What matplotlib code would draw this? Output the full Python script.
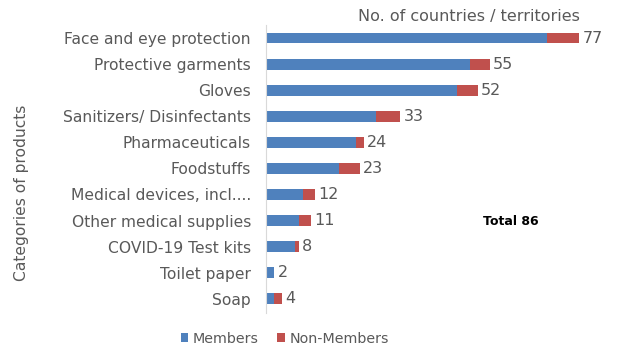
"""
Stacked horizontal bars: products by members / non-members.
"""
import matplotlib
matplotlib.use('Agg')
import matplotlib.pyplot as plt
import numpy as np

categories = ['Face and eye protection', 'Protective garments', 'Gloves',
              'Sanitizers/ Disinfectants', 'Pharmaceuticals', 'Foodstuffs',
              'Medical devices, incl....', 'Other medical supplies',
              'COVID-19 Test kits', 'Toilet paper', 'Soap']
members = [69, 50, 47, 27, 22, 18, 9, 8, 7, 2, 2]
non_members = [8, 5, 5, 6, 2, 5, 3, 3, 1, 0, 2]
totals = [77, 55, 52, 33, 24, 23, 12, 11, 8, 2, 4]

blue = '#4F81BD'
red = '#C0504D'
grey = '#595959'

fig = plt.figure(figsize=(6.19, 3.49), dpi=100)
ax = fig.add_axes([0.430, 0.103, 0.565, 0.825])

y = np.arange(len(categories))[::-1]
ax.barh(y, members, height=0.41, color=blue, label='Members')
ax.barh(y, non_members, left=members, height=0.41, color=red,
        label='Non-Members')

for yi, t in zip(y, totals):
    ax.text(t + 0.8, yi, str(t), va='center', ha='left', fontsize=11.5,
            color=grey)

ax.set_xlim(0, 86)
ax.set_ylim(-0.55, 10.5)
ax.set_yticks(y)
ax.set_yticklabels(categories, fontsize=11.2, color=grey)
ax.tick_params(axis='y', length=0, pad=11)
ax.set_xticks([])
for s in ['top', 'right', 'bottom']:
    ax.spines[s].set_visible(False)
ax.spines['left'].set_color('#D9D9D9')

fig.text(0.937, 0.952, 'No. of countries / territories', ha='right',
         va='center', fontsize=11.5, color=grey)
fig.text(0.035, 0.447, 'Categories of products', rotation=90, ha='center',
         va='center', fontsize=11.2, color=grey)
fig.text(0.826, 0.364, 'Total 86', ha='center', va='center', fontsize=9,
         fontweight='bold', color='black')

fig.legend(loc='center', bbox_to_anchor=(0.46, 0.03), ncol=2, frameon=False,
           fontsize=10.3, labelcolor=grey, handlelength=0.55, handleheight=0.55,
           handletextpad=0.3, columnspacing=1.3)

plt.savefig('out.png', dpi=100)
